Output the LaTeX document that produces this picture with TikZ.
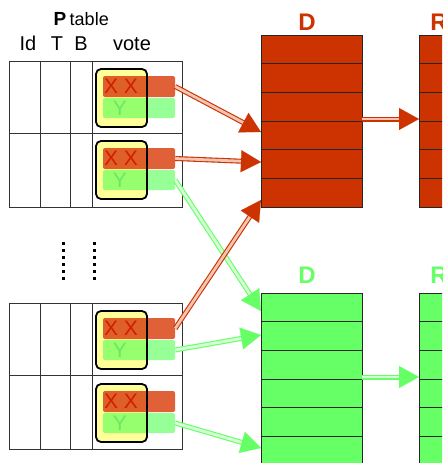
\documentclass[tikz,border=0pt]{standalone}
\usepackage{fontspec}
\setmainfont{Liberation Sans}
\usetikzlibrary{arrows.meta,calc}

\definecolor{dred}{RGB}{204,51,0}
\definecolor{dgreen}{RGB}{102,255,102}
\definecolor{barred}{RGB}{218,68,21}
\definecolor{bargreen}{RGB}{80,255,80}
\definecolor{voteyellow}{RGB}{255,255,153}
\definecolor{redpale}{RGB}{242,196,178}
\definecolor{greenpale}{RGB}{215,255,215}
\definecolor{xred}{RGB}{210,30,0}
\definecolor{ygreen}{RGB}{110,230,100}

\tikzset{
  grid line/.style={line width=0.8pt, black!80},
  row line/.style={line width=1pt, black!85},
  dbox/.style={rectangle, fill=#1, draw=black!85, line width=1pt,
    minimum width=101pt, minimum height=172pt, inner sep=0pt},
  dlabel/.style={text=#1, font=\fontsize{24}{26}\selectfont\bfseries},
  votebox/.style={line width=1.8pt, rounded corners=5pt},
  red bar/.style={rectangle, rounded corners=2pt, fill=barred, fill opacity=0.85,
    minimum width=72pt, minimum height=21pt, inner sep=0pt},
  green bar/.style={rectangle, rounded corners=2pt, fill=bargreen, fill opacity=0.6,
    minimum width=72pt, minimum height=20pt, inner sep=0pt},
  xx/.style={text=xred, font=\fontsize{21}{23}\selectfont},
  yy/.style={text=ygreen, font=\fontsize{21}{23}\selectfont},
  head/.style={font=\fontsize{20}{22}\selectfont, anchor=base},
  shaft/.style 2 args={draw=#1, line width=1.1pt, double=#2,
    double distance=2.8pt, shorten >=13pt},
  tip/.style={-{Triangle[length=20pt,width=22pt]}, draw=#1, fill=#1, line width=0.2pt}
}

% double shaft with a solid head: colour, inner colour, from, to
\newcommand{\votearrow}[4]{%
  \draw[shaft={#1}{#2}] (#3) -- (#4);
  \draw[tip=#1] ($(#4)!20pt!(#3)$) -- (#4);
}

\begin{document}
\begin{tikzpicture}[x=1pt,y=-1pt]
  \useasboundingbox (0,0) rectangle (442,463);
  \clip (0,0) rectangle (442,463);

  % table title and column heads
  \node[anchor=base, inner sep=0pt, font=\fontsize{19}{21}\selectfont\bfseries] (ptitle) at (60,25) {P};
  \node[anchor=base west, inner sep=0pt, xshift=3pt, font=\fontsize{18}{20}\selectfont] (ttitle) at (ptitle.base east) {table};
  \node[head] (hid) at (28,50) {Id};
  \node[head] (ht) at (57,50) {T};
  \node[head] (hb) at (81,50) {B};
  \node[head] (hvote) at (132,50) {vote};

  % two blocks of the table
  \foreach \t in {61,303} {
    \draw[grid line] (9.5,\t) rectangle (182,\t+146);
    \draw[grid line] (9.5,\t+72.5) -- (182,\t+72.5);
    \foreach \x in {40,70,92}
      \draw[grid line] (\x,\t) -- (\x,\t+146);
  }

  % vote cells
  \foreach \t [count=\i] in {61,133,303,376} {
    \fill[voteyellow, rounded corners=5pt] (96,\t+8) rectangle (147,\t+66);
    \node[red bar] (r\i) at (139,\t+25.5) {};
    \node[green bar] (g\i) at (139,\t+47) {};
    \draw[votebox] (96,\t+8) rectangle (147,\t+66);
    \node[xx] (x\i) at (121,\t+25.5) {X X};
    \node[yy] (y\i) at (120,\t+47) {Y};
  }

  % elided rows
  \foreach \y in {0,...,5} {
    \fill (62,242+7*\y) rectangle ++(2.6,2.6);
    \fill (93,242+7*\y) rectangle ++(2.6,2.6);
  }

  % D and R stores
  \node[dbox=dred] (dtop) at (311.5,121) {};
  \node[dbox=dred] (rtop) at (469.5,121) {};
  \node[dbox=dgreen] (dbot) at (311.5,379) {};
  \node[dbox=dgreen] (rbot) at (469.5,379) {};
  \foreach \b in {dtop,rtop,dbot,rbot}
    \foreach \k in {1,...,5}
      \draw[row line] ($(\b.north west)!\k/6!(\b.south west)$) -- ($(\b.north east)!\k/6!(\b.south east)$);

  \node[dlabel=dred] (dtoplab) at (307,22) {D};
  \node[dlabel=dred] (rtoplab) at (439,22) {R};
  \node[dlabel=dgreen] (dbotlab) at (307,275) {D};
  \node[dlabel=dgreen] (rbotlab) at (439,275) {R};

  % where the arrows land
  \coordinate (ra) at (261,132);
  \coordinate (rb) at (261,162);
  \coordinate (rc) at (261,200);
  \coordinate (ga) at (261,311);
  \coordinate (gb) at (261,335);
  \coordinate (gc) at (261,448);
  \coordinate (rout) at (362,119);
  \coordinate (rin) at (419,119);
  \coordinate (gout) at (362,377);
  \coordinate (gin) at (419,377);

  \votearrow{dgreen}{greenpale}{g2.east}{ga}
  \votearrow{dgreen}{greenpale}{g3.east}{gb}
  \votearrow{dgreen}{greenpale}{g4.east}{gc}
  \votearrow{dgreen}{greenpale}{gout}{gin}
  \votearrow{dred}{redpale}{r1.east}{ra}
  \votearrow{dred}{redpale}{r2.east}{rb}
  \votearrow{dred}{redpale}{r3.east}{rc}
  \votearrow{dred}{redpale}{rout}{rin}
\end{tikzpicture}
\end{document}
